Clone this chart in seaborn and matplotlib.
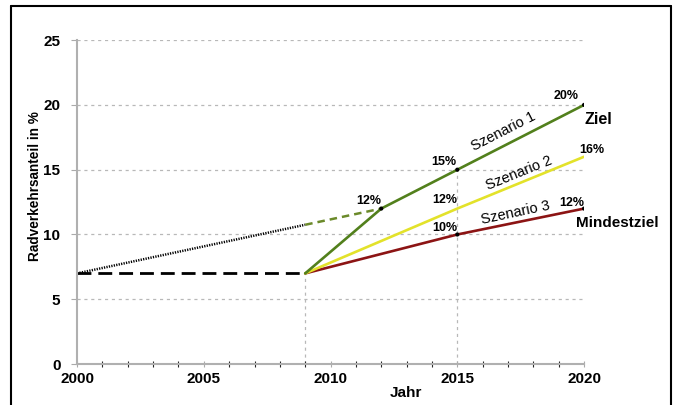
"""
Radverkehrsanteil 2000-2020: Ist-Entwicklung, Trend und drei Szenarien.
"""

import matplotlib
matplotlib.use("Agg")
import matplotlib.pyplot as plt
from matplotlib.lines import Line2D
from matplotlib.ticker import MultipleLocator
import pandas as pd
import seaborn as sns

# --- data ---------------------------------------------------------------
hist_years = [2000, 2009]
hist_share = [7, 7]

trend_years = [2000, 2009]
trend_share = [7, 10.75]
trend_ext_years = [2009, 2012]
trend_ext_share = [10.75, 12]

s1_years = [2009, 2012, 2015, 2020]
s1_share = [7, 12, 15, 20]
s2_years = [2009, 2015, 2020]
s2_share = [7, 12, 16]
s3_years = [2009, 2015, 2020]
s3_share = [7, 10, 12]

marker_years = [2012, 2015, 2020, 2015, 2020]
marker_share = [12, 15, 20, 10, 12]

x_ticks = [2000, 2005, 2010, 2015, 2020]
y_ticks = [0, 5, 10, 15, 20, 25]

sns.set_theme(style="white")
plt.rcParams["font.family"] = ["Liberation Sans", "DejaVu Sans"]
plt.rcParams["text.color"] = "black"
plt.rcParams["axes.labelcolor"] = "black"

GREEN = "#52801c"
YELLOW = "#e3e22a"
RED = "#8c1414"
GRID = "#b8b8b8"

fig, ax = plt.subplots(figsize=(6.76, 4.05), dpi=100)
fig.subplots_adjust(left=0.114, right=0.864, top=0.901, bottom=0.101)

# grid + guide lines
for y in y_ticks[1:]:
    ax.plot([2000, 2020], [y, y], ls=(0, (2.5, 3)), color=GRID, lw=0.9, zorder=0)
ax.plot([2009, 2009], [0, 7], ls=(0, (2.5, 3)), color=GRID, lw=0.9, zorder=0)
ax.plot([2015, 2015], [0, 15], ls=(0, (2.5, 3)), color=GRID, lw=0.9, zorder=0)


def line(x, y, **kw):
    sns.lineplot(data=pd.DataFrame({"Jahr": x, "Anteil": y}), x="Jahr", y="Anteil",
                 ax=ax, legend=False, **kw)


line(hist_years, hist_share, color="black", lw=2.0, linestyle=(0, (5, 2.5)))
line(trend_years, trend_share, color="black", lw=1.8, linestyle=(0, (0.5, 0.5)))
line(trend_ext_years, trend_ext_share, color="#6b8a2a", lw=1.8, linestyle=(0, (3, 2)))
line(s3_years, s3_share, color=RED, lw=1.9)
line(s2_years, s2_share, color=YELLOW, lw=1.9)
line(s1_years, s1_share, color=GREEN, lw=1.9)
sns.scatterplot(x=marker_years, y=marker_share, color="black", s=9, ax=ax,
                zorder=5, edgecolor="none")

# value labels
lab = dict(fontsize=9, fontweight="bold", ha="center", va="center")
ax.text(2011.5, 12.55, "12%", **lab)
ax.text(2014.45, 15.6, "15%", **lab)
ax.text(2014.5, 12.65, "12%", **lab)
ax.text(2014.5, 10.5, "10%", **lab)
ax.text(2019.3, 20.7, "20%", **lab)
ax.text(2020.3, 16.55, "16%", **lab)
ax.text(2019.5, 12.4, "12%", **lab)
ax.text(2020.55, 18.9, "Ziel", fontsize=11.5, fontweight="bold", ha="center", va="center")
ax.text(2021.3, 10.85, "Mindestziel", fontsize=11, fontweight="bold", ha="center", va="center")

sc = dict(fontsize=10.5, ha="center", va="center", rotation_mode="anchor")
ax.text(2016.8, 17.95, "Szenario 1", rotation=27, **sc)
ax.text(2017.45, 14.7, "Szenario 2", rotation=22, **sc)
ax.text(2017.3, 11.65, "Szenario 3", rotation=12, **sc)

# axes
ax.set_xlim(2000, 2020)
ax.set_ylim(0, 25)
ax.set_xticks(x_ticks)
ax.set_yticks(y_ticks)
ax.xaxis.set_minor_locator(MultipleLocator(1))
ax.tick_params(axis="both", labelsize=11, colors="#aaaaaa", labelcolor="black")
ax.tick_params(axis="y", which="major", left=True, length=4, width=0.8, pad=8)
ax.tick_params(axis="x", which="both", bottom=True, direction="inout", length=5, width=0.8, pad=3)
for t in ax.get_xticklabels() + ax.get_yticklabels():
    t.set_fontweight("bold")
for s in ["top", "right"]:
    ax.spines[s].set_visible(False)
for s in ["left", "bottom"]:
    ax.spines[s].set_color("#b0b0b0")
    ax.spines[s].set_linewidth(1.5)
ax.set_xlabel("")
ax.set_ylabel("Radverkehrsanteil in %", fontsize=9.8, fontweight="bold")
ax.yaxis.set_label_coords(-0.07, 0.55)
fig.text(0.6, 0.03, "Jahr", fontsize=11, fontweight="bold", ha="center", va="center")

# outer frame (no bottom edge visible)
fx0, fx1, fy1 = 11 / 676, 670.5 / 676, 1 - 6 / 405
for xs, ys in [([fx0, fx0], [0, fy1]), ([fx0, fx1], [fy1, fy1]), ([fx1, fx1], [fy1, 0])]:
    fig.add_artist(Line2D(xs, ys, transform=fig.transFigure, color="black", lw=1.5))

fig.savefig("out.png", dpi=100)
